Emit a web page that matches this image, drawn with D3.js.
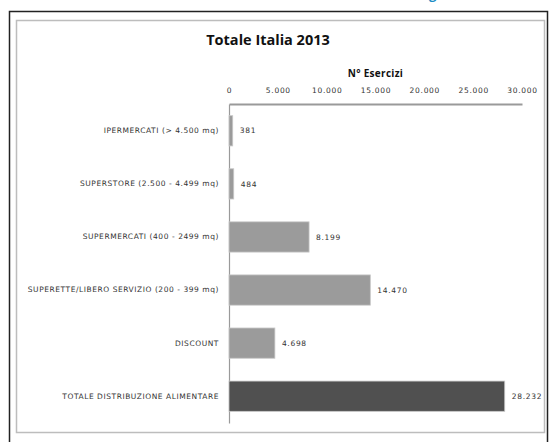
<!DOCTYPE html>
<html>
<head>
<meta charset="utf-8">
<script src="https://cdn.jsdelivr.net/npm/d3@7"></script>
<style>
  html, body { margin: 0; padding: 0; background: #fff; }
  svg { display: block; font-family: "Open Sans", "Liberation Sans", sans-serif; }
  .small { font-family: "DejaVu Sans", sans-serif; }
</style>
</head>
<body>
<div id="chart"></div>
<script>
var CATEGORIES = [
  "IPERMERCATI (> 4.500 mq)",
  "SUPERSTORE (2.500 - 4.499 mq)",
  "SUPERMERCATI (400 - 2499 mq)",
  "SUPERETTE/LIBERO SERVIZIO (200 - 399 mq)",
  "DISCOUNT",
  "TOTALE DISTRIBUZIONE ALIMENTARE"
];
var VALUES = [381, 484, 8199, 14470, 4698, 28232];
var X_TICKS = [0, 5000, 10000, 15000, 20000, 25000, 30000];
var TITLE = "Totale Italia 2013";
var AXIS_TITLE = "N° Esercizi";

var W = 550, H = 442;
var LIGHT_BAR = "#9b9b9b", DARK_BAR = "#505050", TEXT = "#333";

var fmt = function (v) { return d3.format(",")(v).replace(/,/g, "."); };

var svg = d3.select("#chart").append("svg").attr("width", W).attr("height", H);

// photo frame: outer dark rule + inner grey box
svg.append("rect").attr("x", 9.5).attr("y", 11.5).attr("width", 538).attr("height", 440)
  .attr("fill", "#fff").attr("stroke", "#222").attr("stroke-width", 1.5);
svg.append("rect").attr("x", 16.5).attr("y", 20.5).attr("width", 528).attr("height", 412)
  .attr("fill", "#fff").attr("stroke", "#bdbdbd").attr("stroke-width", 1.5);
// fragment of the page heading cut off at the top
svg.append("text").attr("x", 429).attr("y", -1).attr("fill", "#1b8cc4")
  .style("font-size", "13px").style("font-weight", "bold").text("g");

svg.append("text").attr("x", 268).attr("y", 45).attr("text-anchor", "middle")
  .attr("fill", "#111").style("font-size", "14.5px").style("font-weight", "bold").text(TITLE);

var m = { l: 229, r: 28, t: 104, b: 19 };
var g = svg.append("g").attr("transform", "translate(" + m.l + "," + m.t + ")");
var ih = H - m.t - m.b;

var x = d3.scaleLinear().domain([0, 30000]).range([0, 293]);
var y = d3.scaleBand().domain(CATEGORIES).range([0, ih]).paddingInner(0.43).paddingOuter(0.22);

g.append("text").attr("x", x(15000)).attr("y", -27).attr("text-anchor", "middle")
  .attr("fill", "#111").style("font-size", "10px").style("font-weight", "bold")
  .style("letter-spacing", "0.3px").text(AXIS_TITLE);

var xa = g.append("g").attr("font-family", null)
  .call(d3.axisTop(x).tickValues(X_TICKS).tickSize(0).tickPadding(11).tickFormat(fmt));
xa.attr("font-family", null);
xa.select(".domain").attr("stroke", "#9a9a9a").attr("stroke-width", 2);
xa.selectAll("text").attr("class", "small").attr("fill", TEXT).style("font-size", "7.5px")
  .style("letter-spacing", "0.7px");

var ya = g.append("g").call(d3.axisLeft(y).tickSize(0).tickPadding(10));
ya.attr("font-family", null);
ya.select(".domain").attr("stroke", "#9a9a9a").attr("stroke-width", 1.2);
ya.selectAll("text").attr("class", "small").attr("fill", TEXT).style("font-size", "7.5px")
  .style("letter-spacing", "0.55px");

g.selectAll("rect.bar").data(VALUES).enter().append("rect").attr("class", "bar")
  .attr("x", 0).attr("y", function (d, i) { return y(CATEGORIES[i]); })
  .attr("width", function (d) { return x(d); }).attr("height", y.bandwidth())
  .attr("fill", function (d, i) { return i === VALUES.length - 1 ? DARK_BAR : LIGHT_BAR; })
  .attr("stroke", "#c8c8c8").attr("stroke-width", 0.8);

g.selectAll("text.val").data(VALUES).enter().append("text").attr("class", "val small")
  .attr("x", function (d) { return x(d) + 7; })
  .attr("y", function (d, i) { return y(CATEGORIES[i]) + y.bandwidth() / 2; })
  .attr("dy", "0.35em").attr("fill", TEXT).style("font-size", "7.5px")
  .style("letter-spacing", "0.7px").text(fmt);
</script>
</body>
</html>
